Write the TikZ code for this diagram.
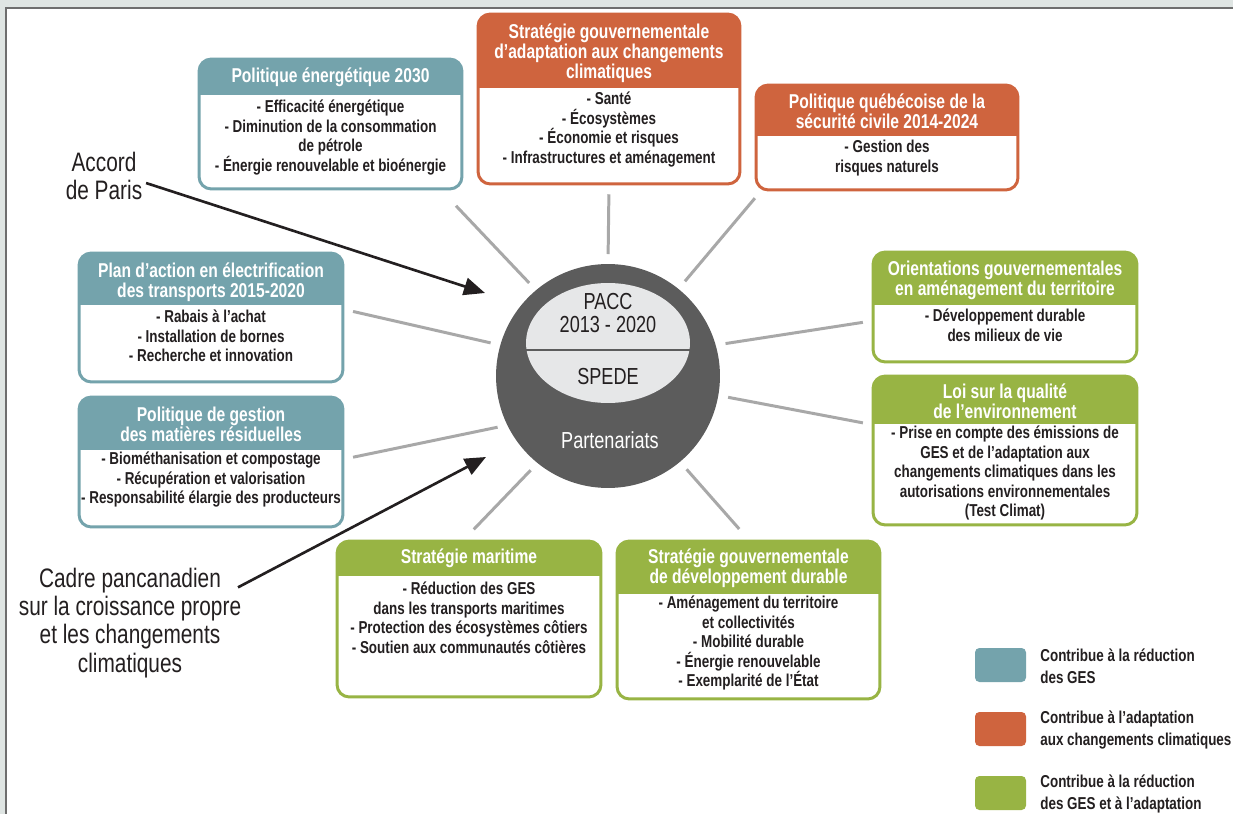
\documentclass[tikz,border=0pt]{standalone}
\usepackage{fontspec}
\usepackage{tikz}
\usetikzlibrary{shapes.geometric,arrows.meta,calc}

\newfontfamily\narrowsf[FakeStretch=0.78]{Liberation Sans}
\newcommand\boxtitlefont{\narrowsf\bfseries\fontsize{11.4}{11.5}\selectfont}
\newcommand\boxitemfont{\narrowsf\bfseries\fontsize{9.8}{11.1}\selectfont}
\newcommand\calloutfont{\narrowsf\fontsize{15.2}{16}\selectfont}
\newcommand\hubfont{\narrowsf\fontsize{13.2}{13}\selectfont}
\newcommand\keyfont{\narrowsf\bfseries\fontsize{9.8}{12.5}\selectfont}

\definecolor{ghgteal}{RGB}{116,163,172}
\definecolor{adaptorange}{RGB}{207,100,62}
\definecolor{bothgreen}{RGB}{152,180,68}
\definecolor{spokegray}{RGB}{168,168,168}
\definecolor{hubgray}{RGB}{92,92,92}
\definecolor{hublight}{RGB}{230,231,232}
\definecolor{inkblack}{RGB}{35,31,32}
\definecolor{pagegray}{RGB}{223,229,227}
\definecolor{framegray}{RGB}{110,110,110}

\begin{document}
\begin{tikzpicture}[x=0.02cm, y=-0.02cm,
    box/.style 2 args={draw=#1, fill=white, rounded corners=7pt, line width=1.7pt,
      path picture={\fill[#1, sharp corners] (path picture bounding box.north west)
        rectangle ([yshift=-#2]path picture bounding box.north east);}},
    head/.style={text=white, font=\boxtitlefont, align=center, inner sep=0pt},
    items/.style={text=inkblack, font=\boxitemfont, align=center, inner sep=0pt, anchor=north},
    hub/.style={circle, fill=hubgray, minimum size=4.48cm, inner sep=0pt},
    hubcore/.style={ellipse, fill=hublight, minimum width=3.28cm, minimum height=2.40cm, inner sep=0pt},
    hubtext/.style={text=inkblack, font=\hubfont, align=center, inner sep=0pt},
    spoke/.style={draw=spokegray, line width=1.7pt, shorten <=5.5pt, shorten >=5pt},
    note/.style={text=inkblack, font=\calloutfont, align=center, inner sep=2pt},
    callout/.style={draw=inkblack, line width=1.5pt, -{Triangle[length=12pt,width=10pt]}},
    key/.style={fill=#1, rounded corners=2.5pt, minimum width=1.02cm, minimum height=0.68cm, inner sep=0pt},
    keytext/.style={text=inkblack, font=\keyfont, align=left, anchor=west, inner sep=0pt}]

  \useasboundingbox (0,0) rectangle (1233,814);
  \fill[pagegray] (0,0) rectangle (1233,814);
  \draw[framegray, line width=0.8pt, fill=white] (6,8) rectangle (1245,830);

  % policy boxes, reduction of GHG (teal)
  \node[box={ghgteal}{0.72cm}, minimum width=5.26cm, minimum height=2.60cm] (energie) at (330.5,124) {};
  \node[head] (energie-t) at (330.5,77) {Politique énergétique 2030};
  \node[items] (energie-b) at (330.5,100)
    {- Efficacité énergétique\\- Diminution de la consommation\\de pétrole\\- Énergie renouvelable et bioénergie};

  \node[box={ghgteal}{1.04cm}, minimum width=5.28cm, minimum height=2.58cm] (elec) at (211,317.5) {};
  \node[head] (elec-t) at (211,282) {Plan d’action en électrification\\des transports 2015-2020};
  \node[items] (elec-b) at (211,310)
    {- Rabais à l’achat\\- Installation de bornes\\- Recherche et innovation};

  \node[box={ghgteal}{1.06cm}, minimum width=5.28cm, minimum height=2.60cm] (residus) at (211,462) {};
  \node[head] (residus-t) at (211,424) {Politique de gestion\\des matières résiduelles};
  \node[items] (residus-b) at (211,452)
    {- Biométhanisation et compostage\\- Récupération et valorisation\\- Responsabilité élargie des producteurs};

  % adaptation (orange)
  \node[box={adaptorange}{1.48cm}, minimum width=5.24cm, minimum height=3.40cm] (adapt) at (609,99) {};
  \node[head] (adapt-t) at (609,53) {Stratégie gouvernementale\\d’adaptation aux changements\\climatiques};
  \node[items] (adapt-b) at (609,92)
    {- Santé\\- Écosystèmes\\- Économie et risques\\- Infrastructures et aménagement};

  \node[box={adaptorange}{1.02cm}, minimum width=5.24cm, minimum height=2.10cm] (secu) at (887,137.5) {};
  \node[head] (secu-t) at (887,111) {Politique québécoise de la\\sécurité civile 2014-2024};
  \node[items] (secu-b) at (887,140) {- Gestion des\\risques naturels};

  % both (green)
  \node[box={bothgreen}{1.06cm}, minimum width=5.28cm, minimum height=2.20cm] (territoire) at (1005,307) {};
  \node[head] (territoire-t) at (1005,280) {Orientations gouvernementales\\en aménagement du territoire};
  \node[items] (territoire-b) at (1005,309) {- Développement durable\\des milieux de vie};

  \node[box={bothgreen}{0.96cm}, minimum width=5.28cm, minimum height=2.98cm] (lqe) at (1005,450.5) {};
  \node[head] (lqe-t) at (1005,401) {Loi sur la qualité\\de l’environnement};
  \node[items] (lqe-b) at (1005,426)
    {- Prise en compte des émissions de\\GES et de l’adaptation aux\\changements climatiques dans les\\autorisations environnementales\\(Test Climat)};

  \node[box={bothgreen}{0.70cm}, minimum width=5.28cm, minimum height=3.12cm] (maritime) at (469,619) {};
  \node[head] (maritime-t) at (469,558) {Stratégie maritime};
  \node[items] (maritime-b) at (469,582)
    {- Réduction des GES\\dans les transports maritimes\\- Protection des écosystèmes côtiers\\- Soutien aux communautés côtières};

  \node[box={bothgreen}{1.06cm}, minimum width=5.26cm, minimum height=3.16cm] (durable) at (748.5,620) {};
  \node[head] (durable-t) at (748.5,568) {Stratégie gouvernementale\\de développement durable};
  \node[items] (durable-b) at (748.5,596)
    {- Aménagement du territoire\\et collectivités\\- Mobilité durable\\- Énergie renouvelable\\- Exemplarité de l’État};

  % central hub
  \node[hub] (hub) at (608,376) {};
  \node[hubcore] (core) at (608,343) {};
  \draw[hubgray, line width=1.7pt] ($(core.west)+(0,7)$) -- ($(core.east)+(0,7)$);
  \node[hubtext] (pacc) at (608,313) {PACC\\2013 - 2020};
  \node[hubtext] (spede) at (608,377) {SPEDE};
  \node[hubtext, text=white] (partners) at (610,440) {Partenariats};

  % spokes
  \draw[spoke, shorten >=12pt] (hub.130) -- ($(energie.south east)+(-22,0)$);
  \draw[spoke] (hub.90) -- (adapt.south);
  \draw[spoke] (hub.51) -- ($(secu.south west)+(6,0)$);
  \draw[spoke] (hub.164) -- ($(elec.east)+(0,-8)$);
  \draw[spoke] (hub.206) -- ($(residus.east)+(0,-3)$);
  \draw[spoke] (hub.16) -- ($(territoire.west)+(0,14)$);
  \draw[spoke] (hub.-10) -- ($(lqe.west)+(0,-26)$);
  \draw[spoke, shorten >=8pt] (hub.231) -- ($(maritime.north)+(-5,0)$);
  \draw[spoke, shorten >=8pt] (hub.-50) -- (durable.north);

  % outside frameworks
  \node[note] (accord) at (104,176) {Accord\\de Paris};
  \node[note] (cadre) at (130,623) {Cadre pancanadien\\sur la croissance propre\\et les changements\\climatiques};
  \coordinate (accord-in) at (485,293);
  \coordinate (cadre-in) at (486,457);
  \draw[callout] ([yshift=-4pt]accord.east) -- (accord-in);
  \draw[callout] ([xshift=-4pt,yshift=-13pt]cadre.north east) -- (cadre-in);

  % legend
  \node[key=ghgteal] (key-ghg) at (1000.5,665) {};
  \node[keytext] (key-ghg-t) at (1040,666) {Contribue à la réduction\\des GES};
  \node[key=adaptorange] (key-adapt) at (1000.5,729) {};
  \node[keytext] (key-adapt-t) at (1040,730) {Contribue à l’adaptation\\aux changements climatiques};
  \node[key=bothgreen] (key-both) at (1000.5,793) {};
  \node[keytext] (key-both-t) at (1040,794) {Contribue à la réduction\\des GES et à l’adaptation};
\end{tikzpicture}
\end{document}
